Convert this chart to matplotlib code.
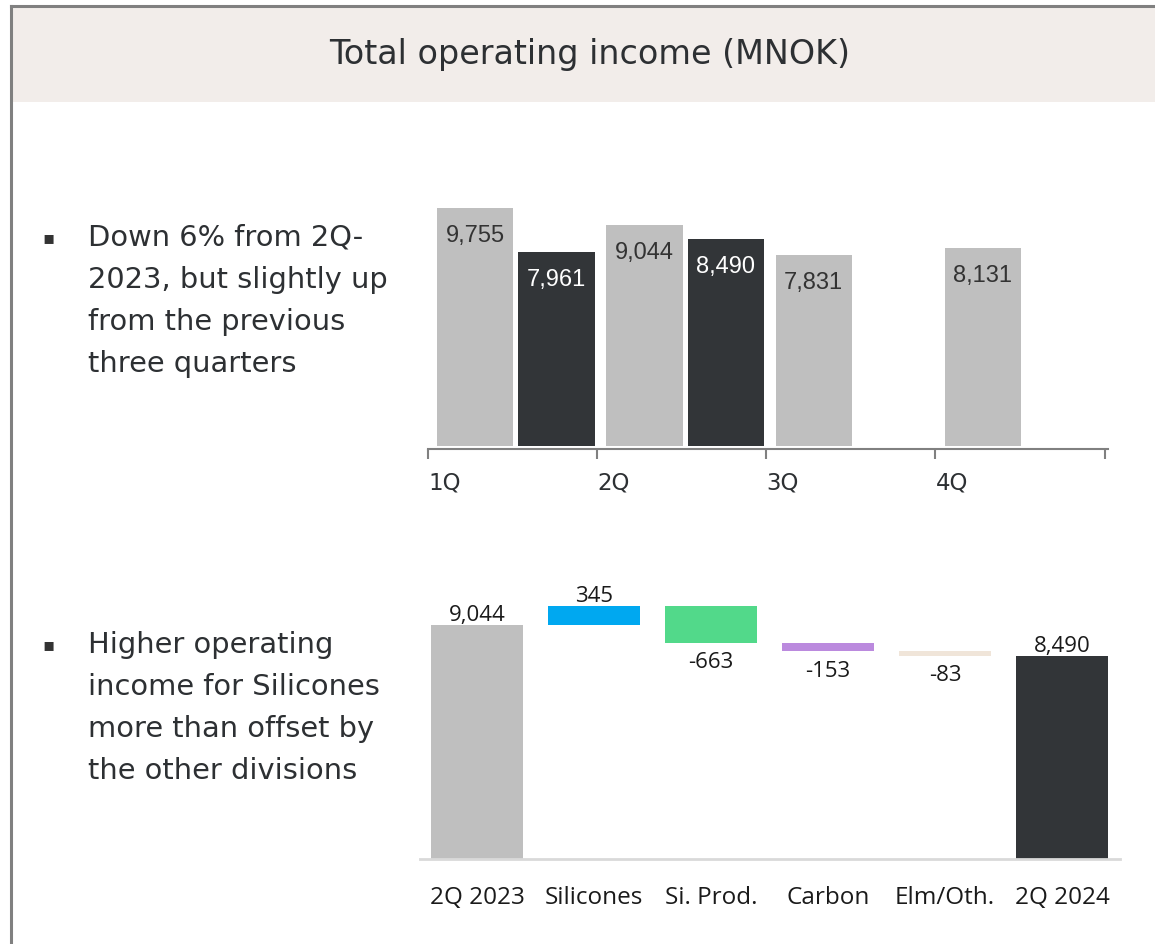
import numpy as np
import matplotlib
matplotlib.use("Agg")
import matplotlib.pyplot as plt
from matplotlib.patches import Rectangle
from matplotlib.lines import Line2D

# data
quarters = ["1Q", "2Q", "3Q", "4Q"]
income_2023 = [9755, 9044, 7831, 8131]
income_2024 = [7961, 8490]

wf_labels = ["2Q 2023", "Silicones", "Si. Prod.", "Carbon", "Elm/Oth.", "2Q 2024"]
wf_start = 9044
wf_changes = [345, -663, -153, -83]
wf_end = 8490
wf_colors = ["#bfbfbf", "#00a8f0", "#52d98a", "#bb8ade", "#f0e5d9", "#323538"]

bullets = [
    ["Down 6% from 2Q-", "2023, but slightly up", "from the previous", "three quarters"],
    ["Higher operating", "income for Silicones", "more than offset by", "the other divisions"],
]

W, H = 1155, 945
fig = plt.figure(figsize=(W / 100, H / 100), dpi=100)


def fx(x):
    return x / W


def fy(y):
    return 1 - y / H


# header band and frame
fig.add_artist(Rectangle((fx(12), fy(103)), 1, fy(8) - fy(103), transform=fig.transFigure,
                         facecolor="#f2edea", edgecolor="none"))
fig.add_artist(Line2D([fx(11), 1], [fy(7), fy(7)], transform=fig.transFigure, color="#808080", lw=2.2))
fig.add_artist(Line2D([fx(11), fx(11)], [fy(7), 0], transform=fig.transFigure, color="#808080", lw=2.2))
fig.text(fx(590), fy(55), "Total operating income (MNOK)", ha="center", va="center",
         fontsize=24, color="#2d3033", family="DejaVu Sans")

# bullet text
main_font = "DejaVu Sans"
for top, lines in zip([238, 645], bullets):
    fig.text(fx(49), fy(top), "\u25aa", ha="center", va="center", fontsize=13, color="#333333",
             family="DejaVu Sans")
    for k, line in enumerate(lines):
        fig.text(fx(88), fy(top + 42 * k), line, ha="left", va="center", fontsize=20.8,
                 color="#2d3033", family=main_font)

# top chart: quarterly bars
ax1 = fig.add_axes([fx(428), fy(447), fx(1108) - fx(428), fy(203) - fy(447)])
x23 = np.arange(len(income_2023)) + 0.28
x24 = np.arange(len(income_2024)) + 0.76
b23 = ax1.bar(x23, income_2023, width=0.45, color="#bfbfbf")
b24 = ax1.bar(x24, income_2024, width=0.45, color="#323538")
for bars, col in [(b23, "#333333"), (b24, "white")]:
    for r in bars:
        ax1.annotate(f"{r.get_height():,.0f}", (r.get_x() + r.get_width() / 2, r.get_height()),
                     xytext=(0, -19.5), textcoords="offset points", ha="center", va="center",
                     fontsize=17, color=col, family="Liberation Sans")
ax1.set_xlim(0, 4.02)
ax1.set_ylim(0, 10000)
for s in ["top", "right", "left"]:
    ax1.spines[s].set_visible(False)
ax1.spines["bottom"].set_color("#808080")
ax1.spines["bottom"].set_linewidth(1.5)
ax1.spines["bottom"].set_position(("outward", 2))
ax1.set_yticks([])
ax1.set_xticks(np.arange(5))
ax1.set_xticklabels(quarters + [""], ha="left", fontsize=16.5, color="#2d3033", family=main_font)
ax1.tick_params(axis="x", length=7, width=1.5, color="#808080", pad=9)

# bottom chart: waterfall
ax2 = fig.add_axes([fx(420), fy(860), fx(1120) - fx(420), fy(580) - fy(860)])
levels = np.cumsum([wf_start] + wf_changes)
tops = [wf_start] + [max(levels[i], levels[i + 1]) for i in range(len(wf_changes))] + [wf_end]
bottoms = [0] + [min(levels[i], levels[i + 1]) for i in range(len(wf_changes))] + [0]
pos = np.arange(len(wf_labels))
heights = np.array(tops) - np.array(bottoms)
ax2.bar(pos, heights, bottom=bottoms, width=0.786, color=wf_colors)
values = [wf_start] + wf_changes + [wf_end]
for i, v in enumerate(values):
    if v >= 0:
        ax2.annotate(f"{v:,}", (pos[i], tops[i]), xytext=(0, 0), textcoords="offset points",
                     ha="center", va="bottom", fontsize=16, color="#1a1a1a", family="Open Sans")
    else:
        ax2.annotate(f"{v:,}", (pos[i], bottoms[i]), xytext=(0, -6), textcoords="offset points",
                     ha="center", va="top", fontsize=16, color="#1a1a1a", family="Open Sans")
ax2.set_xlim(-0.487, 5.496)
ax2.set_ylim(4865, 9865)
for s in ["top", "right", "left"]:
    ax2.spines[s].set_visible(False)
ax2.spines["bottom"].set_color("#d9d9d9")
ax2.spines["bottom"].set_linewidth(2)
ax2.set_yticks([])
ax2.set_xticks(pos)
ax2.set_xticklabels(wf_labels, fontsize=17.5, color="#1a1a1a", family="Open Sans")
ax2.tick_params(axis="x", length=0, pad=19)

fig.savefig("out.png", dpi=100)
